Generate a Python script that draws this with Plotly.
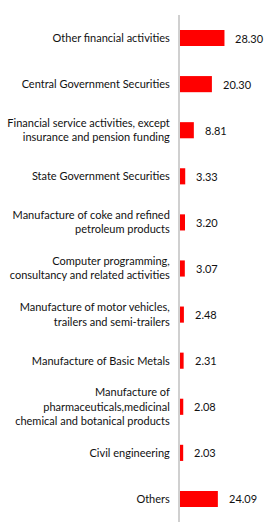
import plotly.graph_objects as go

categories = [
    "Other financial activities",
    "Central Government Securities",
    "Financial service activities, except<br>insurance and pension funding",
    "State Government Securities",
    "Manufacture of coke and refined<br>petroleum products",
    "Computer programming,<br>consultancy and related activities",
    "Manufacture of motor vehicles,<br>trailers and semi-trailers",
    "Manufacture of Basic Metals",
    "Manufacture of<br>pharmaceuticals,medicinal<br>chemical and botanical products",
    "Civil engineering",
    "Others",
]
values = [28.30, 20.30, 8.81, 3.33, 3.20, 3.07, 2.48, 2.31, 2.08, 2.03, 24.09]
value_labels = ["%.2f" % v for v in values]

FONT = "Lato"
TXT = "#111111"
FS = 11

fig = go.Figure()
fig.add_trace(go.Bar(
    x=values, y=categories, orientation="h",
    marker=dict(color="#ff0000", line=dict(width=0)),
    width=0.35,
    hoverinfo="skip",
))
for c, v, t in zip(categories, values, value_labels):
    fig.add_annotation(x=v, y=c, text=t, showarrow=False, xanchor="left",
                       xshift=9, font=dict(family=FONT, size=FS, color=TXT))

fig.update_layout(
    width=279, height=530,
    margin=dict(l=180, r=0, t=15, b=8),
    paper_bgcolor="white", plot_bgcolor="white",
    showlegend=False,
    font=dict(family=FONT, size=FS, color=TXT),
    bargap=0.6,
)
fig.update_xaxes(range=[0, 63], visible=False, fixedrange=True)
fig.update_yaxes(
    autorange="reversed", showgrid=False, zeroline=False,
    showline=True, linecolor="#d0d0d0", linewidth=2,
    ticks="outside", ticklen=6, tickcolor="rgba(0,0,0,0)",
    tickfont=dict(family=FONT, size=FS, color=TXT),
)
fig.write_html("out.html")
